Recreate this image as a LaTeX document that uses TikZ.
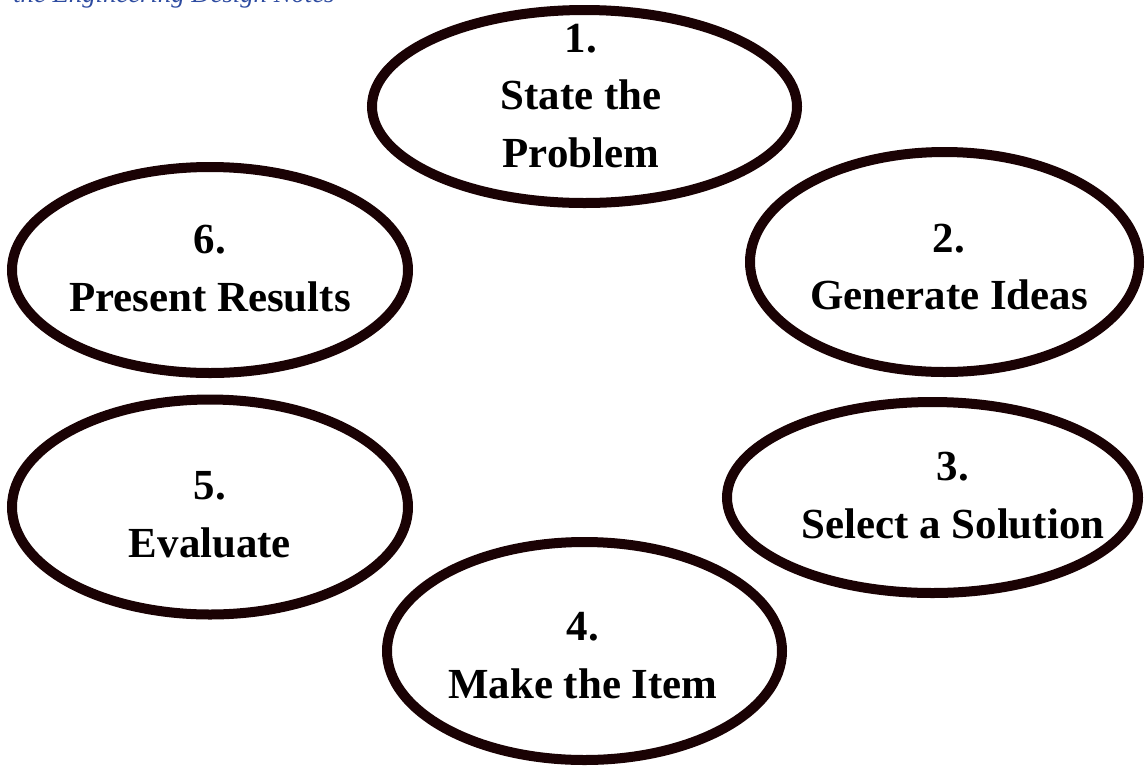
\documentclass[tikz,border=0pt]{standalone}
\usepackage{fontspec}
\setmainfont{Liberation Serif}
\usetikzlibrary{shapes.geometric}
\definecolor{rimbrown}{RGB}{26,2,4}
\definecolor{noteblue}{RGB}{45,75,160}

\begin{document}
\begin{tikzpicture}
            [x=0.025cm,y=-0.025cm,
             stepring/.style={ellipse,draw=rimbrown,line width=0.25cm,inner sep=0pt},
             steptext/.style={align=center,font=\fontsize{30.5}{41}\selectfont\bfseries}]

            \useasboundingbox (0,0) rectangle (1146,765);

            \node[anchor=base west,inner sep=0pt,text=noteblue,font=\fontsize{19}{22}\selectfont\itshape] (notes) at (13,2) {the Engineering Design Notes};

            \foreach \n/\x/\y/\w/\h in {1/584.5/106.5/425/193, 2/944.5/262/389/220, 3/932.5/497.5/411/191,
                                        4/584.5/651/395/218, 5/210/507/396/215, 6/210/270/396/206}
              \node[stepring,minimum width=\w*0.025cm,minimum height=\h*0.025cm] (s\n) at (\x,\y) {};

            \node[steptext] (t1) at (581,96) {1.\\State the\\Problem};
            \node[steptext] (t2) at (949,267) {2.\\Generate Ideas};
            \node[steptext] (t3) at (953,495.5) {3.\\Select a Solution};
            \node[steptext] (t4) at (583,655.5) {4.\\Make the Item};
            \node[steptext] (t5) at (210,514.5) {5.\\Evaluate};
            \node[steptext] (t6) at (210,268.5) {6.\\Present Results};

          \end{tikzpicture}
\end{document}
